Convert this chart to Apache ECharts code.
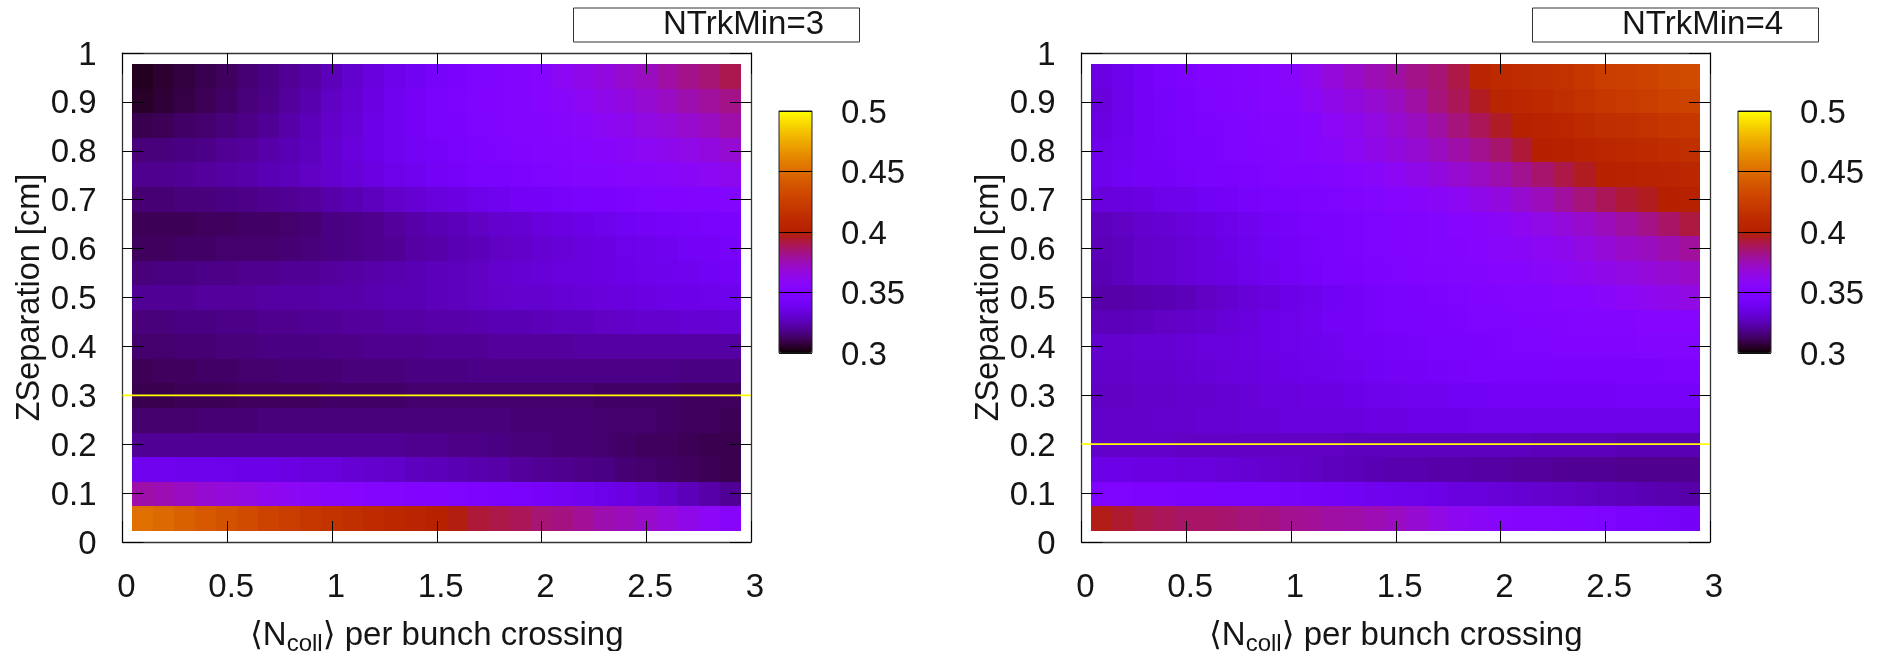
<!DOCTYPE html>
<html>
<head>
<meta charset="utf-8">
<title>ZSeparation scan</title>
<script src="https://cdn.jsdelivr.net/npm/echarts@6/dist/echarts.min.js"></script>
<style>
  html, body { margin: 0; padding: 0; background: #fff; }
  #chart { width: 1883px; height: 651px; }
</style>
</head>
<body>
<div id="chart"></div>
<script>
// bin centres
var binX = [0.0955, 0.1957, 0.296, 0.3962, 0.4965, 0.5967, 0.6969, 0.7972, 0.8974, 0.9977, 1.0979, 1.1981, 1.2984, 1.3986, 1.4989, 1.5991, 1.6993, 1.7996, 1.8998, 2.0001, 2.1003, 2.2005, 2.3008, 2.401, 2.5013, 2.6015, 2.7017, 2.802, 2.9022];
var binY = [0.9518, 0.9016, 0.8514, 0.8012, 0.751, 0.7008, 0.6506, 0.6004, 0.5502, 0.5, 0.4498, 0.3996, 0.3494, 0.2992, 0.249, 0.1988, 0.1486, 0.0984, 0.0482];
var binHalfX = 0.0501;
var binHalfY = 0.0251;

// rows follow binY, top of the plot first
var valuesTrk3 = [
  [.304,.306,.308,.310,.312,.315,.317,.320,.322,.326,.330,.333,.337,.340,.344,.347,.349,.351,.353,.355,.360,.363,.366,.370,.373,.378,.382,.385,.390],
  [.305,.307,.309,.311,.313,.316,.318,.321,.324,.328,.331,.335,.339,.342,.345,.348,.350,.351,.352,.354,.357,.360,.363,.366,.369,.372,.376,.379,.382],
  [.310,.311,.313,.314,.316,.318,.320,.323,.326,.329,.332,.336,.339,.342,.345,.347,.349,.351,.352,.353,.355,.357,.360,.362,.365,.367,.370,.373,.377],
  [.316,.316,.317,.318,.320,.321,.323,.325,.327,.330,.333,.336,.339,.341,.343,.346,.348,.349,.351,.352,.353,.355,.356,.358,.360,.362,.364,.366,.369],
  [.319,.319,.320,.321,.322,.323,.325,.326,.328,.330,.332,.335,.337,.339,.341,.343,.345,.346,.348,.349,.351,.352,.353,.354,.356,.357,.358,.360,.362],
  [.315,.315,.316,.316,.317,.318,.319,.320,.321,.323,.325,.327,.329,.331,.333,.335,.337,.339,.341,.342,.344,.345,.347,.348,.349,.350,.351,.351,.352],
  [.311,.311,.311,.312,.312,.313,.313,.314,.315,.317,.318,.319,.321,.323,.325,.326,.328,.330,.331,.333,.335,.336,.338,.340,.341,.343,.344,.345,.347],
  [.312,.312,.313,.313,.314,.314,.314,.315,.316,.317,.318,.319,.320,.322,.323,.325,.326,.328,.329,.331,.332,.334,.335,.337,.338,.339,.341,.342,.344],
  [.316,.317,.317,.318,.318,.319,.319,.320,.320,.321,.322,.323,.324,.325,.326,.327,.328,.330,.331,.332,.333,.334,.335,.336,.337,.338,.339,.340,.341],
  [.320,.320,.320,.321,.321,.321,.322,.322,.322,.323,.323,.324,.325,.325,.326,.327,.328,.329,.330,.330,.331,.332,.333,.334,.335,.336,.336,.337,.338],
  [.316,.316,.317,.317,.318,.318,.319,.319,.320,.320,.321,.321,.322,.322,.323,.323,.324,.325,.325,.326,.327,.327,.328,.329,.330,.330,.331,.331,.332],
  [.314,.314,.315,.315,.316,.316,.317,.317,.317,.318,.318,.319,.319,.319,.320,.320,.320,.321,.321,.321,.321,.322,.322,.322,.322,.322,.322,.322,.322],
  [.311,.312,.312,.313,.313,.314,.314,.315,.315,.315,.316,.316,.316,.317,.317,.317,.318,.318,.318,.318,.318,.318,.318,.318,.318,.318,.317,.317,.317],
  [.310,.310,.311,.311,.311,.312,.312,.312,.312,.313,.313,.313,.313,.314,.314,.314,.314,.314,.314,.314,.314,.314,.313,.313,.313,.313,.312,.312,.312],
  [.314,.314,.314,.315,.315,.315,.316,.316,.316,.316,.316,.316,.316,.316,.316,.316,.316,.316,.315,.315,.315,.315,.314,.314,.314,.313,.312,.312,.311],
  [.320,.320,.320,.320,.320,.320,.320,.320,.320,.320,.320,.320,.320,.319,.319,.318,.318,.317,.316,.316,.315,.315,.314,.313,.312,.312,.311,.310,.310],
  [.339,.339,.338,.338,.337,.336,.336,.335,.334,.333,.331,.330,.329,.327,.326,.325,.324,.323,.321,.320,.319,.318,.317,.315,.314,.313,.312,.311,.310],
  [.377,.375,.372,.369,.367,.365,.362,.360,.358,.356,.355,.353,.352,.351,.350,.349,.348,.347,.345,.343,.341,.339,.337,.335,.332,.329,.326,.323,.320],
  [.452,.449,.445,.441,.437,.433,.428,.424,.420,.417,.414,.411,.408,.405,.402,.398,.393,.391,.389,.385,.383,.380,.376,.374,.371,.367,.363,.359,.356]
];

var valuesTrk4 = [
  [.335,.338,.342,.345,.348,.350,.351,.353,.355,.357,.361,.367,.371,.375,.378,.382,.385,.391,.405,.410,.412,.414,.416,.420,.424,.426,.428,.431,.433],
  [.333,.337,.341,.344,.347,.349,.350,.352,.354,.355,.359,.363,.366,.369,.373,.378,.384,.389,.396,.405,.407,.410,.413,.416,.420,.422,.424,.427,.428],
  [.335,.338,.341,.344,.346,.348,.349,.351,.352,.353,.355,.359,.362,.365,.369,.373,.378,.384,.389,.395,.402,.404,.406,.410,.413,.414,.416,.418,.420],
  [.337,.339,.341,.343,.345,.347,.349,.350,.351,.352,.354,.357,.360,.363,.366,.369,.373,.377,.381,.386,.393,.400,.402,.404,.406,.409,.410,.412,.414],
  [.338,.340,.341,.342,.344,.345,.347,.348,.349,.350,.351,.353,.355,.357,.360,.363,.366,.369,.372,.376,.381,.386,.391,.396,.402,.403,.404,.405,.407],
  [.333,.334,.335,.337,.338,.340,.342,.344,.345,.347,.348,.349,.351,.352,.354,.356,.358,.360,.363,.366,.370,.374,.379,.384,.389,.393,.396,.400,.402],
  [.327,.328,.330,.331,.333,.335,.337,.339,.341,.343,.345,.347,.348,.349,.350,.351,.352,.354,.356,.358,.361,.364,.367,.370,.374,.378,.382,.387,.392],
  [.326,.327,.329,.330,.332,.334,.336,.338,.340,.342,.344,.346,.348,.349,.350,.351,.352,.353,.355,.357,.358,.360,.362,.365,.368,.371,.373,.376,.379],
  [.325,.327,.329,.330,.332,.334,.335,.337,.339,.341,.343,.345,.347,.348,.349,.350,.351,.352,.353,.354,.355,.357,.359,.361,.363,.365,.367,.369,.371],
  [.323,.323,.324,.325,.326,.328,.330,.332,.334,.336,.338,.340,.342,.344,.346,.347,.348,.349,.350,.351,.352,.353,.354,.355,.357,.359,.361,.363,.365],
  [.326,.326,.327,.328,.329,.330,.332,.334,.336,.337,.339,.341,.342,.344,.345,.346,.347,.348,.349,.349,.350,.351,.351,.352,.353,.353,.354,.354,.355],
  [.330,.330,.331,.331,.332,.333,.334,.335,.336,.337,.338,.339,.341,.342,.343,.344,.345,.346,.347,.348,.349,.349,.350,.350,.351,.351,.352,.352,.352],
  [.329,.329,.330,.330,.331,.332,.333,.334,.335,.336,.337,.338,.339,.340,.341,.342,.343,.344,.345,.345,.346,.346,.347,.347,.347,.347,.347,.348,.348],
  [.328,.328,.329,.329,.330,.330,.331,.332,.333,.334,.335,.335,.336,.337,.338,.339,.339,.340,.340,.341,.341,.342,.342,.342,.342,.343,.343,.343,.343],
  [.329,.329,.329,.330,.330,.331,.331,.332,.332,.333,.333,.334,.334,.335,.335,.336,.336,.336,.337,.337,.337,.337,.337,.337,.337,.337,.337,.337,.337],
  [.329,.329,.329,.329,.328,.328,.328,.328,.328,.328,.328,.328,.327,.327,.327,.327,.327,.327,.327,.327,.327,.326,.326,.326,.326,.325,.325,.325,.325],
  [.336,.336,.335,.335,.334,.333,.332,.331,.330,.329,.328,.327,.326,.325,.324,.324,.323,.323,.322,.322,.321,.321,.320,.320,.320,.319,.319,.319,.319],
  [.349,.349,.348,.348,.347,.347,.346,.345,.345,.344,.343,.342,.340,.339,.338,.337,.336,.334,.333,.332,.331,.330,.329,.328,.327,.326,.325,.324,.323],
  [.397,.394,.391,.389,.387,.387,.386,.384,.383,.381,.380,.378,.377,.375,.373,.369,.365,.361,.358,.355,.353,.352,.351,.350,.349,.347,.346,.344,.342]
];

var cutTrk3 = 0.3;
var cutTrk4 = 0.2;
var labelsTrk = ['NTrkMin=3', 'NTrkMin=4'];

var textColor = '#151515';
var fontName = '"Liberation Sans", Arial, "DejaVu Sans", sans-serif';

// gnuplot pm3d default palette (rgbformulae 7,5,15)
function paletteColors() {
  var out = [];
  for (var i = 0; i <= 80; i++) {
    var t = i / 80;
    var r = Math.sqrt(t);
    var g = t * t * t;
    var b = Math.max(0, Math.sin(2 * Math.PI * t));
    out.push('rgb(' + Math.round(r * 255) + ',' + Math.round(g * 255) + ',' + Math.round(b * 255) + ')');
  }
  return out;
}
var palette = paletteColors();

function toCells(rows) {
  var cells = [];
  for (var j = 0; j < binY.length; j++) {
    for (var i = 0; i < binX.length; i++) {
      cells.push([binX[i], binY[j], rows[j][i]]);
    }
  }
  return cells;
}

function drawCell(params, api) {
  var p0 = api.coord([api.value(0) - binHalfX, api.value(1) + binHalfY]);
  var p1 = api.coord([api.value(0) + binHalfX, api.value(1) - binHalfY]);
  // snap to whole pixels so neighbouring cells do not leave seams
  var x0 = Math.round(p0[0]), x1 = Math.round(p1[0]);
  var y0 = Math.round(p0[1]), y1 = Math.round(p1[1]);
  return {
    type: 'rect',
    shape: {x: x0, y: y0, width: x1 - x0, height: y1 - y0},
    style: {fill: api.visual('color')}
  };
}

function mainXAxis(gridIndex, isTop) {
  return {
    type: 'value', gridIndex: gridIndex, min: 0, max: 3, interval: 0.5, z: 5,
    position: isTop ? 'top' : 'bottom',
    axisLine: {show: true, onZero: false, lineStyle: {color: '#333', width: 1.3}},
    axisTick: {show: true, inside: true, length: 21, lineStyle: {color: '#000', width: 1}},
    splitLine: {show: false},
    axisLabel: {show: !isTop, color: textColor, fontFamily: fontName, fontSize: 33, margin: 29, padding: [0, 0, 0, 8]},
    name: isTop ? '' : '{t|\u27E8N}{s|coll}{t|\u27E9 per bunch crossing}',
    nameLocation: 'middle',
    nameGap: 74,
    nameTextStyle: {
      rich: {
        t: {fontFamily: fontName, fontSize: 33, color: textColor},
        s: {fontFamily: fontName, fontSize: 24, color: textColor, padding: [16, 0, 0, 0]}
      }
    }
  };
}

// labels sit a little low of the tick centre in the original, hence the rich padding
var lowLabelRich = {v: {fontFamily: fontName, fontSize: 33, color: textColor, padding: [5, 0, 0, 0]}};

function mainYAxis(gridIndex, isRight) {
  return {
    type: 'value', gridIndex: gridIndex, min: 0, max: 1, interval: 0.1, z: 5,
    position: isRight ? 'right' : 'left',
    axisLine: {show: true, onZero: false, lineStyle: {color: '#333', width: 1.3}},
    axisTick: {show: true, inside: true, length: 21, lineStyle: {color: '#000', width: 1}},
    splitLine: {show: false},
    axisLabel: {show: !isRight, formatter: '{v|{value}}', rich: lowLabelRich, margin: 26},
    name: isRight ? '' : 'ZSeparation [cm]',
    nameLocation: 'middle',
    nameGap: 75,
    nameTextStyle: {fontFamily: fontName, fontSize: 32.5, color: textColor}
  };
}

function barYAxis(gridIndex) {
  return {
    type: 'value', gridIndex: gridIndex, min: 0.3, max: 0.5, interval: 0.05, z: 6,
    position: 'right',
    axisLine: {show: false},
    axisTick: {show: false},
    splitLine: {show: true, lineStyle: {color: '#000', width: 1}},
    axisLabel: {formatter: '{v|{value}}', rich: lowLabelRich, margin: 29, align: 'left'}
  };
}

function barXAxis(gridIndex) {
  return {type: 'value', gridIndex: gridIndex, min: 0, max: 1, show: false};
}

function barVisualMap(seriesIndex, left) {
  return {
    type: 'continuous', seriesIndex: seriesIndex, dimension: 2,
    min: 0.3, max: 0.5, calculable: false, realtime: false, text: null,
    showLabel: false, left: left, top: 111, itemWidth: 33, itemHeight: 242, padding: 0,
    inRange: {color: palette}, textStyle: {color: 'transparent'}
  };
}

function panelTitle(text, left) {
  return {
    text: text, left: left, top: 8.5,
    padding: [1, 36, 1, 90],
    borderColor: '#333', borderWidth: 1,
    textStyle: {fontFamily: fontName, fontSize: 33, fontWeight: 'normal', color: textColor, lineHeight: 31}
  };
}

var chart = echarts.init(document.getElementById('chart'), null, {renderer: 'canvas'});

chart.setOption({
  animation: false,
  backgroundColor: '#fff',
  title: [panelTitle(labelsTrk[0], 573), panelTitle(labelsTrk[1], 1532)],
  grid: [
    {left: 122.5, top: 53, width: 628.5, height: 489, outerBoundsMode: 'none'},
    {left: 1081.5, top: 53, width: 628.5, height: 489, outerBoundsMode: 'none'},
    {left: 779, top: 111, width: 33, height: 242, outerBoundsMode: 'none', show: true, z: 7, borderColor: '#222', borderWidth: 1, backgroundColor: 'transparent'},
    {left: 1738, top: 111, width: 33, height: 242, outerBoundsMode: 'none', show: true, z: 7, borderColor: '#222', borderWidth: 1, backgroundColor: 'transparent'}
  ],
  xAxis: [mainXAxis(0, false), mainXAxis(0, true), mainXAxis(1, false), mainXAxis(1, true), barXAxis(2), barXAxis(3)],
  yAxis: [mainYAxis(0, false), mainYAxis(0, true), mainYAxis(1, false), mainYAxis(1, true), barYAxis(2), barYAxis(3)],
  visualMap: [barVisualMap(0, 779), barVisualMap(1, 1738)],
  series: [
    {type: 'custom', xAxisIndex: 0, yAxisIndex: 0, renderItem: drawCell, encode: {x: 0, y: 1}, data: toCells(valuesTrk3), z: 2, silent: true},
    {type: 'custom', xAxisIndex: 2, yAxisIndex: 2, renderItem: drawCell, encode: {x: 0, y: 1}, data: toCells(valuesTrk4), z: 2, silent: true},
    {type: 'line', xAxisIndex: 0, yAxisIndex: 0, z: 8, symbol: 'none', silent: true, lineStyle: {color: '#ffff00', width: 1.8}, data: [[0, cutTrk3], [3, cutTrk3]]},
    {type: 'line', xAxisIndex: 2, yAxisIndex: 2, z: 8, symbol: 'none', silent: true, lineStyle: {color: '#ffff00', width: 1.8}, data: [[0, cutTrk4], [3, cutTrk4]]}
  ]
});
</script>
</body>
</html>
